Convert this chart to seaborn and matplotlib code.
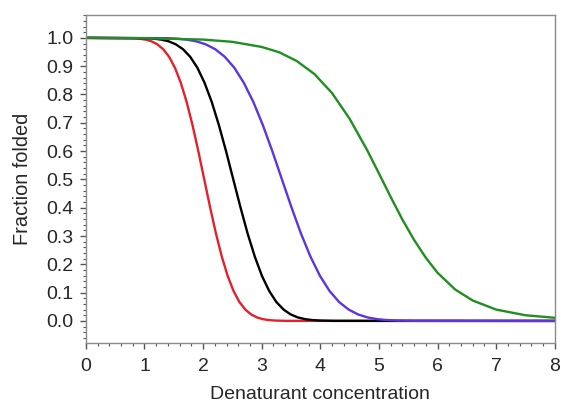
import numpy as np
import pandas as pd
import matplotlib
matplotlib.use("Agg")
import matplotlib.pyplot as plt
from matplotlib.ticker import MultipleLocator
import seaborn as sns

# Data
red_x = [0, 0.82, 0.92, 1.02, 1.12, 1.22, 1.32, 1.42, 1.52, 1.62, 1.72, 1.82, 1.92, 2.02, 2.12, 2.22,
         2.32, 2.42, 2.52, 2.62, 2.72, 2.82, 2.92, 3.02, 3.12, 3.22, 3.42, 8.0]
red_y = [1.000, 0.9987, 0.9970, 0.9938, 0.9878, 0.9772, 0.9599, 0.9332, 0.8944, 0.8413, 0.7734, 0.6915,
         0.5987, 0.500, 0.4013, 0.3085, 0.2266, 0.1587, 0.1056, 0.0668, 0.0401, 0.0228, 0.0122, 0.0062,
         0.0030, 0.0014, 0.0002, 0.0]

black_x = [0, 1.045, 1.168, 1.29, 1.413, 1.535, 1.658, 1.78, 1.903, 2.025, 2.148, 2.27, 2.393, 2.515,
           2.638, 2.76, 2.883, 3.005, 3.128, 3.25, 3.373, 3.495, 3.618, 3.74, 3.863, 3.985, 4.23, 8.0]
black_y = [1.000, 0.9987, 0.9970, 0.9938, 0.9878, 0.9772, 0.9599, 0.9332, 0.8944, 0.8413, 0.7734, 0.6915,
           0.5987, 0.500, 0.4013, 0.3085, 0.2266, 0.1587, 0.1056, 0.0668, 0.0401, 0.0228, 0.0122, 0.0062,
           0.0030, 0.0014, 0.0002, 0.0]

blue_x = [0, 1.395, 1.558, 1.72, 1.883, 2.045, 2.208, 2.37, 2.533, 2.695, 2.858, 3.02, 3.183, 3.345,
          3.508, 3.67, 3.833, 3.995, 4.158, 4.32, 4.483, 4.645, 4.808, 4.97, 5.133, 5.295, 5.62, 8.0]
blue_y = [1.000, 0.9987, 0.9970, 0.9938, 0.9878, 0.9772, 0.9599, 0.9332, 0.8944, 0.8413, 0.7734, 0.6915,
          0.5987, 0.500, 0.4013, 0.3085, 0.2266, 0.1587, 0.1056, 0.0668, 0.0401, 0.0228, 0.0122, 0.0062,
          0.0030, 0.0014, 0.0002, 0.0]

green_x = [0, 1.0, 2.0, 2.5, 3.0, 3.3, 3.6, 3.9, 4.2, 4.5, 4.8, 5.0, 5.2, 5.4, 5.6, 5.8, 6.0, 6.3, 6.6, 7.0,
           7.5, 8.0]
green_y = [1.000, 0.999, 0.994, 0.986, 0.968, 0.949, 0.918, 0.872, 0.805, 0.714, 0.603, 0.521, 0.438, 0.358,
           0.286, 0.223, 0.170, 0.111, 0.0720, 0.0400, 0.0200, 0.0110]

x_ticks = [0, 1, 2, 3, 4, 5, 6, 7, 8]
y_ticks = [0.0, 0.1, 0.2, 0.3, 0.4, 0.5, 0.6, 0.7, 0.8, 0.9, 1.0]

series = {"red": (red_x, red_y), "black": (black_x, black_y),
          "blue": (blue_x, blue_y), "green": (green_x, green_y)}
frames = []
for name, (xs, ys) in series.items():
    frames.append(pd.DataFrame({"x": xs, "y": ys, "s": name}))
df = pd.concat(frames, ignore_index=True)

sns.set_style("ticks")
plt.rcParams["font.family"] = ["Liberation Sans", "DejaVu Sans"]

fig = plt.figure(figsize=(5.61, 4.04), dpi=100)
ax = fig.add_axes([0.153, 0.151, 0.836, 0.812])

palette = {"red": "#e3202b", "black": "#000000", "blue": "#5a35e0", "green": "#1f8f1f"}
sns.lineplot(data=df, x="x", y="y", hue="s", palette=palette, estimator=None,
             sort=False, linewidth=1.7, legend=False, ax=ax)

ax.set_xlim(0, 8)
ax.set_ylim(-0.078, 1.081)
ax.set_xticks(x_ticks)
ax.set_xticklabels([str(t) for t in x_ticks])
ax.set_yticks(y_ticks)
ax.set_yticklabels([f"{t:.1f}" for t in y_ticks])
ax.xaxis.set_minor_locator(MultipleLocator(0.2))
ax.yaxis.set_minor_locator(MultipleLocator(0.02))

for sp in ax.spines.values():
    sp.set_visible(True)
    sp.set_color("#8a8a8a")
    sp.set_linewidth(1.0)

ax.tick_params(axis="both", which="major", direction="out", length=4, width=1.0,
               color="#555555", labelsize=14, pad=5)
ax.tick_params(axis="x", which="major", pad=7)
ax.tick_params(axis="both", which="minor", direction="out", length=2.5, width=0.8,
               color="#555555")
ax.tick_params(axis="x", which="both", top=False)
ax.tick_params(axis="y", which="both", right=False)

ax.set_xlabel("Denaturant concentration", fontsize=14, labelpad=8)
ax.set_ylabel("Fraction folded", fontsize=14.4, labelpad=10)

fig.savefig("out.png", dpi=100, facecolor="white")
